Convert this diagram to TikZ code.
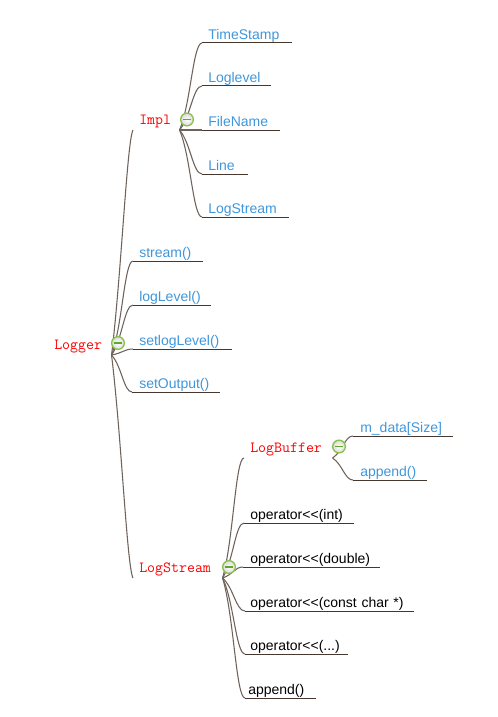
\documentclass[tikz,border=0pt]{standalone}
\usepackage{fontspec}
\setmainfont{Liberation Sans}
\setmonofont{Latin Modern Mono}
\usetikzlibrary{calc}
\definecolor{leafblue}{HTML}{3F96DA}
\definecolor{edgedark}{HTML}{46382F}
\definecolor{edgesoft}{HTML}{6E625B}
\definecolor{togglegreen}{HTML}{8CC04B}
\definecolor{minusgreen}{HTML}{5FA82A}
\tikzset{
  x=.75pt,y=-.75pt,
  base/.style={anchor=south west,inner sep=0pt,text height=8pt,text depth=0pt,align=left,
    execute at begin node={\hspace*{4.5pt}}},
  leaf/.style={base,text width=#1*.75pt,inner ysep=2.5pt,font=\fontsize{10.5pt}{12pt}\selectfont,text=leafblue},
  blackleaf/.style={leaf=#1,text=black},
  topic/.style={base,text width=#1*.75pt,inner ysep=3.75pt,font=\ttfamily\fontsize{11.6pt}{13pt}\selectfont,text=red},
  edge/.style={draw=edgedark,line width=.75pt},
  branch/.style={draw=edgesoft,line width=.8pt,to path={
    let \p1=(\tikztostart),\p2=(\tikztotarget) in
    .. controls ({\x1+.5*(\x2-\x1)},{\y1+.3*(\y2-\y1)}) and ({\x1+.6*(\x2-\x1)},\y2) .. (\p2)}},
  rootbranch/.style={draw=edgesoft,line width=.8pt,to path={
    let \p1=(\tikztostart),\p2=(\tikztotarget) in
    .. controls ({\x1+.45*(\x2-\x1)},{\y1+.35*(\y2-\y1)}) and ({\x1+.72*(\x2-\x1)},{\y1+.95*(\y2-\y1)}) .. (\p2)}},
  toggle/.style={circle,draw=togglegreen,line width=1pt,inner sep=0pt,minimum size=9.5pt,
    inner color=white,outer color=black!14,
    path picture={\draw[minusgreen,line width=1pt]
      ($(path picture bounding box.west)+(1.6pt,0)$) -- ($(path picture bounding box.east)+(-1.6pt,0)$);}}
}
\newcommand{\uline}[1]{\draw[edge] (#1.south west) -- (#1.south east);}
\begin{document}
\begin{tikzpicture}
\useasboundingbox (0,0) rectangle (498,717);
% topics
\node[topic=63] (logger) at (48,355) {Logger};
\node[topic=46] (impl) at (133,130) {Impl};
\node[topic=89] (lstream) at (133,578) {LogStream};
\node[topic=88] (lbuffer) at (244,458) {LogBuffer};
% Impl children
\node[leaf=89] (ts) at (202,43) {TimeStamp};
\node[leaf=68] (ll) at (202,86) {Loglevel};
\node[leaf=77] (fn) at (202,130) {FileName};
\node[leaf=45] (li) at (202,174) {Line};
\node[leaf=86] (ls) at (202,217) {LogStream};
% Logger children
\node[leaf=69] (st) at (133,261) {stream()};
\node[leaf=77] (lv) at (133,305) {logLevel()};
\node[leaf=98] (sl) at (133,349) {setlogLevel()};
\node[leaf=87] (so) at (132,392) {\hspace*{.75pt}setOutput()};
% LogBuffer children
\node[leaf=99] (md) at (353,436) {\hspace*{.75pt}m\_data[Size]};
\node[leaf=73] (ba) at (353,480) {\hspace*{.75pt}append()};
% LogStream children
\node[blackleaf=109] (oi) at (244,523) {operator<{}<(int)};
\node[blackleaf=136] (od) at (243,567) {\hspace*{.75pt}operator<{}<(double)};
\node[blackleaf=168] (oc) at (245,611) {\hspace*{-.75pt}operator<{}<(const char *)};
\node[blackleaf=102] (oe) at (245,654) {\hspace*{-.75pt}operator<{}<(...)};
\node[blackleaf=70] (ap) at (245,698) {\hspace*{-2.25pt}append()};
% underlines
\uline{ts}\uline{ll}\uline{fn}\uline{li}\uline{ls}
\uline{st}\uline{lv}\uline{sl}\uline{so}
\uline{md}\uline{ba}
\uline{oi}\uline{od}\uline{oc}\uline{oe}\uline{ap}
% branches
\foreach \c in {ts,ll,fn,li,ls} \draw[branch] (impl.south east) to (\c.south west);
\foreach \c in {st,lv,sl,so} \draw[branch] (logger.south east) to (\c.south west);
\foreach \c in {md,ba} \draw[branch] (lbuffer.south east) to (\c.south west);
\foreach \c in {oi,od,oc,oe,ap} \draw[branch] (lstream.south east) to (\c.south west);
\draw[branch] (lstream.south east) to (lbuffer.south west);
\draw[rootbranch] (logger.south east) to (impl.south west);
\draw[rootbranch] (logger.south east) to (lstream.south west);
% toggles
\node[toggle] (t1) at (118,343) {};
\node[toggle] (t2) at (187,119.5) {};
\node[toggle] (t3) at (229,567) {};
\node[toggle] (t4) at (339,446.5) {};
\end{tikzpicture}
\end{document}
